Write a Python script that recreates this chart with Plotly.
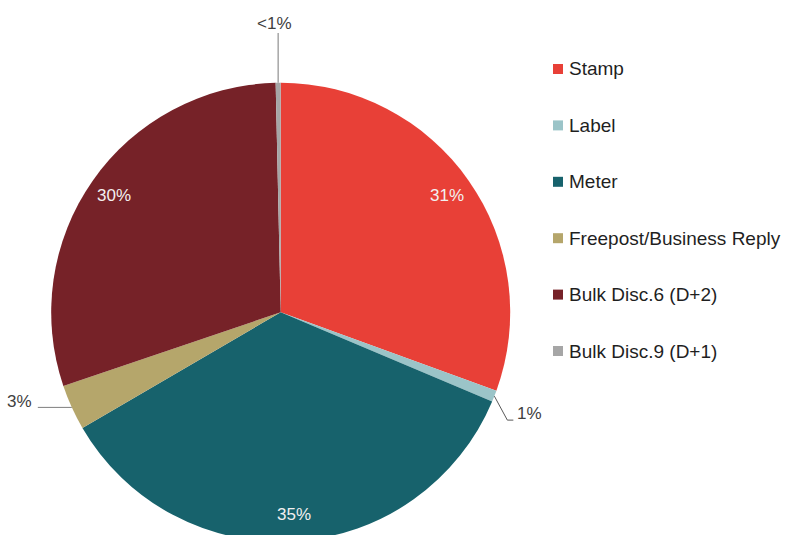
import math
import plotly.graph_objects as go

# Mail volume share by payment method
categories = ["Stamp", "Label", "Meter", "Freepost/Business Reply",
              "Bulk Disc.6 (D+2)", "Bulk Disc.9 (D+1)"]
shares = [30.55, 0.8, 35.25, 3.2, 29.85, 0.35]
colors = ["#E84037", "#9BC4C8", "#17626C", "#B5A66B", "#762228", "#A6A6A6"]

# Figure geometry (pixels)
W, H = 788, 545
CX, CY, R = 280.7, 312.3, 229.5
FONT = "Liberation Sans, Arial, sans-serif"


def px(x):
    return x / W


def py(y):
    return 1 - y / H


def edge(theta, r):
    t = math.radians(theta)
    return CX + r * math.sin(t), CY - r * math.cos(t)


def pct_label(v, total):
    p = v / total * 100
    return "<1%" if p < 0.5 else f"{round(p)}%"


total = sum(shares)

fig = go.Figure(go.Pie(
    labels=categories,
    values=shares,
    sort=False,
    direction="clockwise",
    rotation=0,
    marker=dict(colors=colors, line=dict(width=0)),
    textinfo="none",
    hoverinfo="label+percent",
    showlegend=False,
    domain=dict(x=[px(CX - R), px(CX + R)], y=[py(CY + R), py(CY - R)]),
))

annotations = []
shapes = []

# Slice labels: large slices inside near the rim, small ones outside with leaders
start = 0.0
for cat, v in zip(categories, shares):
    sweep = v / total * 360
    mid = start + sweep / 2
    start += sweep
    text = pct_label(v, total)
    if v / total >= 0.05:
        x, y = edge(mid, 0.885 * R)
        annotations.append(dict(
            x=px(x), y=py(y), xref="paper", yref="paper", text=text,
            showarrow=False, xanchor="center", yanchor="middle",
            font=dict(family=FONT, size=17, color="#F2F0F0")))
        continue
    x0, y0 = edge(mid, R)
    if mid > 300:  # top sliver: vertical leader
        x1, y1 = x0, 33
        path = f"M {px(x0)} {py(y0)} L {px(x1)} {py(y1)}"
        line = dict(color="#A6A6A6", width=1.5)
        ann = dict(x=px(x1 - 4), y=py(y1 - 10), xanchor="center", yanchor="middle")
    elif mid < 180:  # right side: elbow leader
        x1, y1 = x0 + 13, y0 + 24
        x2, y2 = x1 + 6, y1
        path = f"M {px(x0)} {py(y0)} L {px(x1)} {py(y1)} L {px(x2)} {py(y2)}"
        line = dict(color="#595959", width=1)
        ann = dict(x=px(x2 + 2), y=py(y2 - 7), xanchor="left", yanchor="middle")
    else:  # left side: horizontal leader
        x1, y1 = x0 - 34, y0
        path = f"M {px(x0)} {py(y0)} L {px(x1)} {py(y1)}"
        line = dict(color="#7F7F7F", width=1)
        ann = dict(x=px(x1 - 4), y=py(y1 - 6), xanchor="right", yanchor="middle")
    shapes.append(dict(type="path", path=path, xref="paper", yref="paper", line=line))
    ann.update(xref="paper", yref="paper", text=text, showarrow=False,
               font=dict(family=FONT, size=17, color="#404040"))
    annotations.append(ann)

# Legend: colour squares with category names
LEG_X, LEG_Y0, LEG_STEP, SQ = 553, 69, 56.4, 10
for i, (cat, col) in enumerate(zip(categories, colors)):
    yc = LEG_Y0 + i * LEG_STEP
    shapes.append(dict(
        type="rect", xref="paper", yref="paper",
        x0=px(LEG_X), x1=px(LEG_X + SQ), y0=py(yc + SQ / 2), y1=py(yc - SQ / 2),
        fillcolor=col, line=dict(width=0)))
    annotations.append(dict(
        x=px(LEG_X + SQ + 4), y=py(yc), xref="paper", yref="paper", text=cat,
        showarrow=False, xanchor="left", yanchor="middle",
        font=dict(family=FONT, size=19, color="#1F1F1F")))

fig.update_layout(
    width=W, height=H,
    autosize=False,
    margin=dict(l=0, r=0, t=0, b=0),
    paper_bgcolor="white",
    plot_bgcolor="white",
    annotations=annotations,
    shapes=shapes,
)

fig.write_html(
    "out.html",
    config={"displayModeBar": False},
    post_script="document.documentElement.style.overflow='hidden';"
                "document.body.style.overflow='hidden';",
)
